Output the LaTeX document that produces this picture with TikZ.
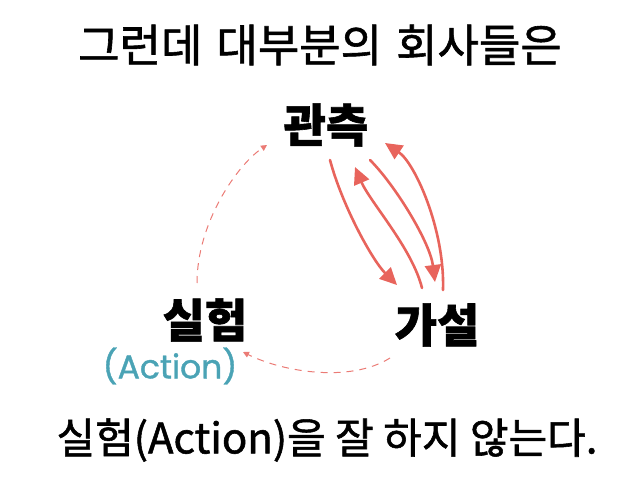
\documentclass[tikz,border=0pt]{standalone}
\usepackage{fontspec}
\setmainfont{Noto Sans CJK KR}[FakeBold=1.3]
\newfontfamily\roundfont{Poppins}[FakeBold=1.2]
\usetikzlibrary{arrows.meta,calc}
\definecolor{crayon}{HTML}{E8645C}
\definecolor{actionteal}{HTML}{4AA3B5}
\tikzset{
  heading/.style={font=\fontsize{45}{48}\selectfont, inner sep=0pt},
  stage/.style={font=\fontsize{46}{50}\selectfont\bfseries, inner sep=0pt},
  loopline/.style={crayon, line width=2.6pt, line cap=round, -{Triangle[length=17pt,width=16pt]}},
  skipped/.style={crayon!85, line width=1pt, dash pattern=on 7pt off 6pt, -{Triangle[length=6pt,width=6pt]}},
}

\begin{document}
\begin{tikzpicture}[x=1pt,y=-1pt]
    \useasboundingbox (0,0) rectangle (638,479);

    % Title
    \node[heading] (title) at (320,45) {그런데\hspace{4pt} 대부분의\hspace{4pt} 회사들은};

    % Stages
    \node[stage] (obs) at (326,125) {관측};
    \node[stage] (hyp) at (437,325) {가설};
    \node[stage] (exp) at (205,320) {실험};
    \node[inner sep=0pt, font=\fontsize{33}{36}\selectfont\roundfont, actionteal] (action) at (170,366) {(Action)};

    % Observation <-> hypothesis, over and over
    \draw[loopline] ($(obs)+(4,35)$) .. controls +(12,45) and +(-25,-25) .. ($(hyp)+(-40,-40)$);
    \draw[loopline] ($(hyp)+(-15,-37)$) .. controls +(-10,-40) and +(15,35) .. ($(obs)+(29,42)$);
    \draw[loopline] ($(obs)+(44,35)$) .. controls +(25,25) and +(-5,-40) .. ($(hyp)+(-2,-43)$);
    \draw[loopline] ($(hyp)+(6,-35)$) .. controls +(2,-60) and +(30,20) .. ($(obs)+(59,18)$);

    % The rest of the cycle, hardly used
    \draw[skipped] ($(exp)+(-8,-37)$) .. controls +(0,-60) and +(-30,20) .. ($(obs)+(-59,20)$);
    \draw[skipped] ($(hyp)+(-47,33)$) .. controls +(-40,25) and +(40,20) .. ($(exp)+(38,32)$);

    % Conclusion
    \node[heading, font=\fontsize{42}{45}\selectfont] (verdict) at (327,440) {실험(Action)을 잘 하지 않는다.};
\end{tikzpicture}
\end{document}
